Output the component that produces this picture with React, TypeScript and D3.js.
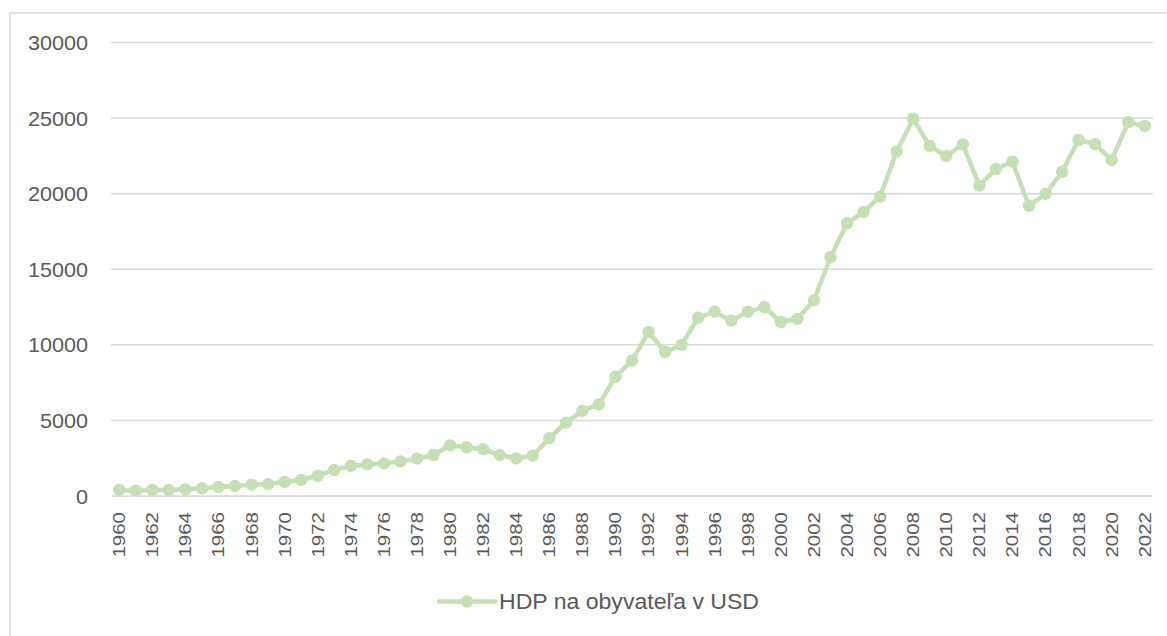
import React from "react";
import * as d3 from "d3";

const years: number[] = d3.range(1960, 2023);
const gdpPerCapita: number[] = [
  400, 350, 400, 400, 440, 510, 600, 660, 750, 790,
  930, 1060, 1340, 1720, 1985, 2090, 2160, 2290, 2470, 2710,
  3350, 3220, 3090, 2710, 2490, 2670, 3820, 4850, 5630, 6060,
  7890, 8950, 10850, 9530, 9990, 11800, 12190, 11600, 12190, 12500,
  11510, 11720, 12950, 15790, 18040, 18790, 19800, 22780, 24960, 23150,
  22490, 23260, 20530, 21630, 22120, 19200, 19980, 21450, 23550, 23280,
  22230, 24720, 24480,
];
const yTicks: number[] = [0, 5000, 10000, 15000, 20000, 25000, 30000];
const seriesName = "HDP na obyvateľa v USD";

const W = 1167;
const H = 636;
const plotLeft = 111;
const plotRight = 1153;
const plotTop = 42.5;
const plotBottom = 496;
const green = "#C5E0B4";
const grid = "#D9D9D9";
const textColor = "#595959";
const font = "'Liberation Sans', Arial, sans-serif";

export default function App() {
  const x = d3
    .scaleBand<number>()
    .domain(years)
    .range([plotLeft, plotRight])
    .padding(0);
  const y = d3.scaleLinear().domain([0, 30000]).range([plotBottom, plotTop]);
  const cx = (yr: number) => (x(yr) as number) + x.bandwidth() / 2;
  const data = years.map((yr, i) => ({ yr, v: gdpPerCapita[i] }));
  const line = d3
    .line<{ yr: number; v: number }>()
    .x((d) => cx(d.yr))
    .y((d) => y(d.v));

  return (
    <svg
      width={W}
      height={H}
      style={{ position: "absolute", left: 0, top: 0, background: "#fff" }}
    >
      <rect x={10} y={13} width={1200} height={700} fill="#fff" stroke={grid} strokeWidth={1.5} />
      {yTicks.map((t) => (
        <g key={t}>
          <line x1={plotLeft} x2={plotRight} y1={y(t)} y2={y(t)} stroke={grid} strokeWidth={1.5} />
          <text
            x={88}
            y={y(t)}
            dy="0.36em"
            textAnchor="end"
            fontFamily={font}
            fontSize={21}
            fill={textColor}
            textLength={12 * String(t).length}
            lengthAdjust="spacingAndGlyphs"
          >
            {t}
          </text>
        </g>
      ))}
      {years
        .filter((yr) => (yr - 1960) % 2 === 0)
        .map((yr) => (
          <text
            key={yr}
            transform={`translate(${cx(yr)},${512}) rotate(-90)`}
            textAnchor="end"
            dy="0.36em"
            fontFamily={font}
            fontSize={16.5}
            fill={textColor}
            textLength={45.5}
            lengthAdjust="spacingAndGlyphs"
          >
            {yr}
          </text>
        ))}
      <path d={line(data) || ""} fill="none" stroke={green} strokeWidth={4.5} strokeLinejoin="round" />
      {data.map((d) => (
        <circle key={d.yr} cx={cx(d.yr)} cy={y(d.v)} r={6.2} fill={green} />
      ))}
      <g>
        <line x1={439} x2={495} y1={601.5} y2={601.5} stroke={green} strokeWidth={4.5} strokeLinecap="round" />
        <circle cx={467} cy={601.5} r={6.2} fill={green} />
        <text
          x={499}
          y={601.5}
          dy="0.36em"
          fontFamily={font}
          fontSize={22}
          fill={textColor}
          textLength={260}
          lengthAdjust="spacingAndGlyphs"
        >
          {seriesName}
        </text>
      </g>
    </svg>
  );
}
